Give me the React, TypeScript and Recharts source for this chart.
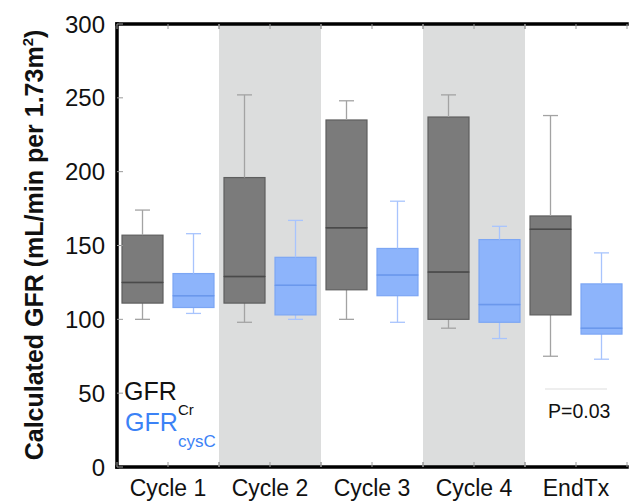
import React from 'react';
import { ComposedChart, Bar, XAxis, YAxis, ReferenceArea } from 'recharts';

const categories = ['Cycle 1', 'Cycle 2', 'Cycle 3', 'Cycle 4', 'EndTx'];
const shaded = ['Cycle 2', 'Cycle 4'];
const yTicks = [0, 50, 100, 150, 200, 250, 300];

// GFR Cr box stats
const crMin = [100, 98, 100, 94, 75];
const crQ1 = [111, 111, 120, 100, 103];
const crMedian = [125, 129, 162, 132, 161];
const crQ3 = [157, 196, 235, 237, 170];
const crMax = [174, 252, 248, 252, 238];

// GFR cysC box stats
const cysMin = [104, 100, 98, 87, 73];
const cysQ1 = [108, 103, 116, 98, 90];
const cysMedian = [116, 123, 130, 110, 94];
const cysQ3 = [131, 142, 148, 154, 124];
const cysMax = [158, 167, 180, 163, 145];

const data = categories.map((name, i) => ({
  name,
  crBase: crMin[i],
  crLowW: crQ1[i] - crMin[i],
  crLowBox: crMedian[i] - crQ1[i],
  crHighBox: crQ3[i] - crMedian[i],
  crHighW: crMax[i] - crQ3[i],
  cysBase: cysMin[i],
  cysLowW: cysQ1[i] - cysMin[i],
  cysLowBox: cysMedian[i] - cysQ1[i],
  cysHighBox: cysQ3[i] - cysMedian[i],
  cysHighW: cysMax[i] - cysQ3[i],
}));

const FONT = '"Liberation Sans", Arial, Helvetica, sans-serif';

const CR = { fill: '#7b7b7b', stroke: '#5e5e5e', median: '#4a4a4a', whisker: '#a3a3a3' };
const CYS = { fill: '#8db4fb', stroke: '#7ca6f4', median: '#6b98ec', whisker: '#a8c4fd' };

const Empty = () => <g />;

const whisker = (cap: 'top' | 'bottom', color: string) => (props: any) => {
  const { x, y, width, height } = props;
  const cx = x + width / 2;
  const capY = cap === 'top' ? y : y + height;
  return (
    <g>
      <line x1={cx} x2={cx} y1={y} y2={y + height} stroke={color} strokeWidth={1.3} />
      <line x1={cx - 7.5} x2={cx + 7.5} y1={capY} y2={capY} stroke={color} strokeWidth={1.3} />
    </g>
  );
};

const boxPart = (c: typeof CR, withMedian: boolean) => (props: any) => {
  const { x, y, width, height } = props;
  return (
    <g>
      <rect x={x} y={y} width={width} height={height} fill={c.fill} stroke={c.stroke} strokeWidth={1.2} />
      {withMedian && (
        <line x1={x} x2={x + width} y1={y + height} y2={y + height} stroke={c.median} strokeWidth={1.5} />
      )}
    </g>
  );
};

const XTick = (props: any) => {
  const { x, y, payload, showLabel, dir } = props;
  const half = payload && payload.offset ? payload.offset : 51;
  const t = 5 * dir;
  return (
    <g>
      {[x - half, x, x + half].map((tx, i) => (
        <line key={i} x1={tx} x2={tx} y1={y} y2={y + t} stroke="#9a9a9a" strokeWidth={1} />
      ))}
      {showLabel && (
        <text x={x} y={y + 29} textAnchor="middle" fontSize={23} fontFamily={FONT} fill="#111">
          {payload.value}
        </text>
      )}
    </g>
  );
};

const YTick = (props: any) => {
  const { x, y, payload, showLabel, dir } = props;
  return (
    <g>
      <line x1={x} x2={x + 6 * dir} y1={y} y2={y} stroke="#9a9a9a" strokeWidth={1} />
      {showLabel && (
        <text x={x - 12} y={y} dy="0.36em" textAnchor="end" fontSize={24} fontFamily={FONT} fill="#111">
          {payload.value}
        </text>
      )}
    </g>
  );
};

const axisLine = { stroke: '#000', strokeWidth: 3.5, strokeLinecap: 'square' as const };

export default function App() {
  return (
    <div style={{ position: 'absolute', left: 0, top: 0, width: 632, height: 501, background: '#fff' }}>
      <ComposedChart
        width={632}
        height={501}
        data={data}
        margin={{ top: 4, right: 5, bottom: 0, left: 0 }}
        barSize={41}
        barGap={10}
      >
        <XAxis
          dataKey="name"
          height={34}
          axisLine={axisLine}
          tickLine={false}
          tickSize={0}
          tickMargin={0}
          interval={0}
          tick={<XTick showLabel dir={-1} />}
        />
        <XAxis
          xAxisId="top"
          dataKey="name"
          orientation="top"
          height={20}
          axisLine={axisLine}
          tickLine={false}
          tickSize={0}
          tickMargin={0}
          interval={0}
          tick={<XTick showLabel={false} dir={1} />}
        />
        <YAxis
          width={117}
          domain={[0, 300]}
          ticks={yTicks}
          axisLine={axisLine}
          tickLine={false}
          tickSize={0}
          tickMargin={0}
          interval={0}
          tick={<YTick showLabel dir={1} />}
        />
        <YAxis
          yAxisId="right"
          orientation="right"
          width={0}
          domain={[0, 300]}
          ticks={yTicks}
          axisLine={axisLine}
          tickLine={false}
          tickSize={0}
          tickMargin={0}
          interval={0}
          tick={<YTick showLabel={false} dir={-1} />}
        />

        {shaded.map((c) => (
          <ReferenceArea key={c} x1={c} x2={c} y1={0} y2={300} fill="#dcdddd" fillOpacity={1} stroke="none" />
        ))}

        <Bar dataKey="crBase" stackId="cr" shape={Empty} isAnimationActive={false} />
        <Bar dataKey="crLowW" stackId="cr" shape={whisker('bottom', CR.whisker)} isAnimationActive={false} />
        <Bar dataKey="crLowBox" stackId="cr" shape={boxPart(CR, false)} isAnimationActive={false} />
        <Bar dataKey="crHighBox" stackId="cr" shape={boxPart(CR, true)} isAnimationActive={false} />
        <Bar dataKey="crHighW" stackId="cr" shape={whisker('top', CR.whisker)} isAnimationActive={false} />

        <Bar dataKey="cysBase" stackId="cys" shape={Empty} isAnimationActive={false} />
        <Bar dataKey="cysLowW" stackId="cys" shape={whisker('bottom', CYS.whisker)} isAnimationActive={false} />
        <Bar dataKey="cysLowBox" stackId="cys" shape={boxPart(CYS, false)} isAnimationActive={false} />
        <Bar dataKey="cysHighBox" stackId="cys" shape={boxPart(CYS, true)} isAnimationActive={false} />
        <Bar dataKey="cysHighW" stackId="cys" shape={whisker('top', CYS.whisker)} isAnimationActive={false} />

        <g fontFamily={FONT}>
          <text transform="rotate(-90)" x={-245} y={43} textAnchor="middle" fontSize={25} fontWeight="bold" fill="#111">
            Calculated GFR (mL/min per 1.73m
            <tspan dy={-10} fontSize={15}>2</tspan>
            <tspan dy={10}>)</tspan>
          </text>
          <text x={124} y={400} fontSize={25} fill="#111">GFR</text>
          <text x={178} y={415} fontSize={15} fill="#111">Cr</text>
          <text x={125} y={431} fontSize={25} fill="#3b82f6">GFR</text>
          <text x={178} y={447} fontSize={17} fill="#3b82f6">cysC</text>
          <line x1={545} x2={607} y1={389} y2={389} stroke="#dddddd" strokeWidth={1} />
          <text x={548} y={418} fontSize={19.5} fill="#111">P=0.03</text>
        </g>
      </ComposedChart>
    </div>
  );
}
